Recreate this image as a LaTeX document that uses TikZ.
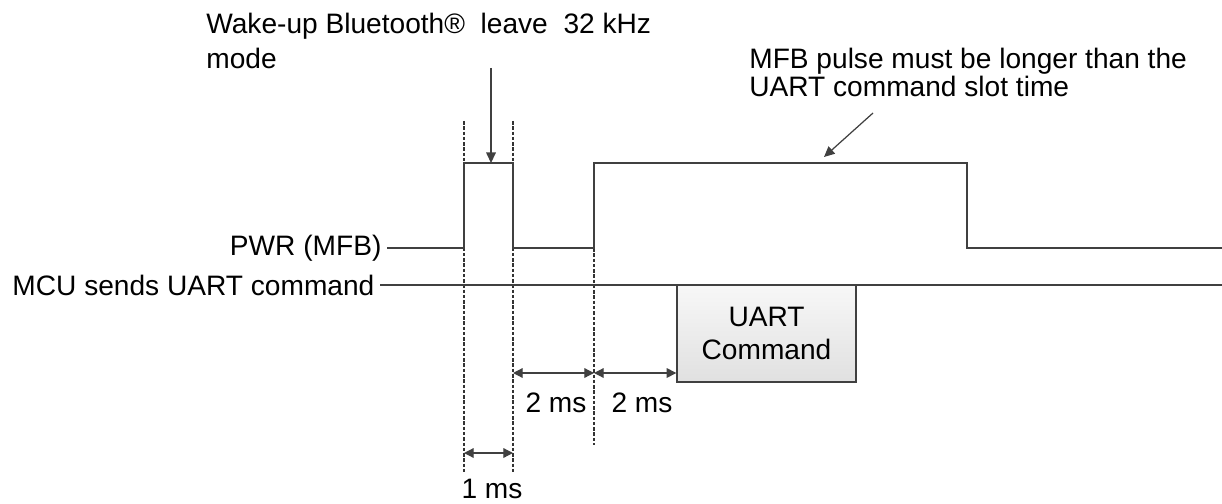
\documentclass[tikz,border=0pt]{standalone}
\usepackage{fontspec}
\setmainfont{Liberation Sans}
\usetikzlibrary{arrows.meta}

\begin{document}
\begin{tikzpicture}[x=0.02cm, y=-0.02cm,
          font=\fontsize{16}{19}\selectfont,
          signal/.style={draw=black!75, line width=0.8pt},
          guide/.style={draw=black!80, line width=1.1pt, dash pattern=on 2pt off 1pt},
          dim/.style={draw=black!75, line width=0.7pt,
            {Triangle[length=5.5pt, width=5.5pt]}-{Triangle[length=5.5pt, width=5.5pt]}},
          pointer/.style={draw=black!75, line width=0.7pt, -{Triangle[length=6pt, width=5.5pt]}},
        ]
          \useasboundingbox (0,0) rectangle (1222,503);
          % time marks
          \coordinate (g0top) at (464,121);
          \coordinate (g0bot) at (464,473);
          \coordinate (g1top) at (513,121);
          \coordinate (g1bot) at (513,473);
          \coordinate (g2top) at (594,248);
          \coordinate (g2bot) at (594,445);
          \draw[guide] (g0top) -- (g0bot);
          \draw[guide] (g1top) -- (g1bot);
          \draw[guide] (g2top) -- (g2bot);
          % signals
          \node[anchor=east, inner sep=3pt] (pwr) at (387,248) {PWR (MFB)};
          \node[anchor=east, inner sep=3pt] (mcu) at (380,285) {MCU sends UART command};
          \draw[signal] (pwr.east) -- (464,248) |- (513,163) |- (594,248) |- (967,163) |- (1222,248);
          \draw[signal] (mcu.east) -- (1222,285);
          \node[draw=black!75, line width=0.8pt, top color=gray!6, bottom color=gray!24,
                minimum width=3.58cm, minimum height=1.94cm, align=center]
                (uart) at (766.5,333.5) {UART\\Command};
          % intervals
          \coordinate (a1) at (513,373);
          \coordinate (a2) at (594,373);
          \coordinate (a3) at (uart.west |- a1);
          \coordinate (b0) at (464,453);
          \coordinate (b1) at (513,453);
          \draw[dim] (a1) -- (a2);
          \draw[dim] (a2) -- (a3);
          \draw[dim] (b0) -- (b1);
          \node (ms2a) at (556,403) {2 ms};
          \node (ms2b) at (642,403) {2 ms};
          \node (ms1)  at (492,489) {1 ms};
          % notes
          \node[anchor=north west, align=left, inner sep=0pt,
                font=\fontsize{16}{19.8}\selectfont]
                (wake) at (206,13) {Wake-up Bluetooth®\ \ leave\ \ 32 kHz\\mode};
          \node[anchor=north west, align=left, inner sep=0pt,
                font=\fontsize{16}{16}\selectfont]
                (slot) at (749,48) {MFB pulse must be longer than the\\UART command slot time};
          \coordinate (w0) at (491,68);
          \coordinate (w1) at (491,163);
          \coordinate (m0) at (873,113);
          \coordinate (m1) at (824,157);
          \draw[pointer] (w0) -- (w1);
          \draw[pointer] (m0) -- (m1);
        \end{tikzpicture}
\end{document}
